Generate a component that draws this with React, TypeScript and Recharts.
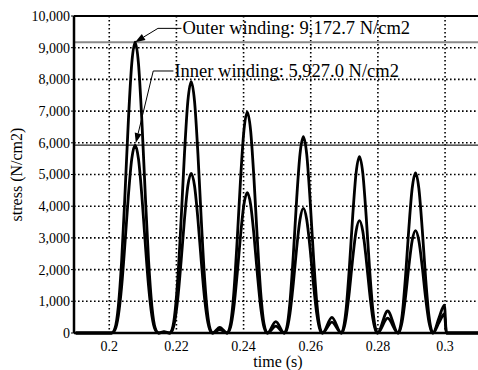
import { LineChart, Line, XAxis, YAxis, CartesianGrid, ReferenceLine } from "recharts";

// sample times (s)
const time = [
  0.19, 0.2, 0.2007,
  0.2017, 0.2027, 0.2037, 0.2047, 0.2057, 0.2067, 0.2077, 0.2087, 0.2097, 0.2107, 0.2117, 0.2127, 0.2137, 0.2147,
  0.2163, 0.218,
  0.2184, 0.2194, 0.2204, 0.2214, 0.2224, 0.2234, 0.2244, 0.2254, 0.2264, 0.2274, 0.2284, 0.2294, 0.2304, 0.2308,
  0.2329, 0.2351,
  0.2361, 0.2371, 0.2381, 0.2391, 0.2401, 0.2411, 0.2421, 0.2431, 0.2441, 0.2451, 0.2461, 0.2471,
  0.2496, 0.2521,
  0.2528, 0.2538, 0.2548, 0.2558, 0.2568, 0.2578, 0.2588, 0.2598, 0.2608, 0.2618, 0.2628, 0.2635,
  0.2663, 0.2691,
  0.2695, 0.2705, 0.2715, 0.2725, 0.2735, 0.2745, 0.2755, 0.2765, 0.2775, 0.2785, 0.2795, 0.2799,
  0.2829, 0.286,
  0.2862, 0.2872, 0.2882, 0.2892, 0.2902, 0.2912, 0.2922, 0.2932, 0.2942, 0.2952, 0.2962, 0.2964,
  0.2982, 0.2998, 0.3004, 0.311,
];

const outerStress = [
  0, 0, 0,
  151, 842, 2302, 4421, 6717, 8500, 9172.7, 8500, 6717, 4421, 2302, 842, 151, 0,
  40, 0,
  31, 497, 1702, 3571, 5659, 7304, 7929, 7304, 5659, 3571, 1702, 497, 31, 0,
  180, 0,
  280, 1274, 2938, 4853, 6385, 6970, 6385, 4853, 2938, 1274, 280, 0,
  357, 0,
  142, 955, 2441, 4208, 5642, 6193, 5642, 4208, 2441, 955, 142, 0,
  495, 0,
  62, 719, 2055, 3696, 5046, 5567, 5046, 3696, 2055, 719, 62, 0,
  694, 0,
  19, 543, 1748, 3280, 4558, 5054, 4558, 3280, 1748, 543, 19, 0,
  480, 880, 0, 0,
];

const innerStress = [
  0, 0, 0,
  98, 544, 1487, 2856, 4339, 5491, 5927, 5491, 4339, 2856, 1487, 544, 98, 0,
  25, 0,
  20, 316, 1081, 2268, 3594, 4638, 5038, 4638, 3594, 2268, 1081, 316, 20, 0,
  105, 0,
  178, 809, 1866, 3082, 4054, 4426, 4054, 3082, 1866, 809, 178, 0,
  220, 0,
  90, 606, 1550, 2672, 3583, 3934, 3583, 2672, 1550, 606, 90, 0,
  340, 0,
  39, 457, 1307, 2351, 3209, 3543, 3209, 2351, 1307, 457, 39, 0,
  470, 0,
  12, 346, 1115, 2093, 2908, 3227, 2908, 2093, 1115, 346, 12, 0,
  330, 600, 0, 0,
];

const xTicks = [0.2, 0.22, 0.24, 0.26, 0.28, 0.3];
const yTicks = [0, 1000, 2000, 3000, 4000, 5000, 6000, 7000, 8000, 9000, 10000];

const outerMax = 9172.7;
const innerMax = 5927.0;

const notes = [
  {
    label: "Outer winding: 9,172.7 N/cm2",
    tip: { x: 0.2077, y: 9172.7 },
    elbow: { x: 0.2145, y: 9610 },
    end: { x: 0.2215, y: 9610 },
  },
  {
    label: "Inner winding: 5,927.0 N/cm2",
    tip: { x: 0.2079, y: 5990 },
    elbow: { x: 0.2131, y: 8265 },
    end: { x: 0.2191, y: 8265 },
  },
];

const data = time.map((t, i) => ({ t, outer: outerStress[i], inner: innerStress[i] }));

const FONT = "Liberation Serif";

function Arrow(props: any) {
  const { x1, y1, x2, y2 } = props;
  const a = Math.atan2(y2 - y1, x2 - x1);
  const len = 10;
  const hw = 3.5;
  const bx = x2 - len * Math.cos(a);
  const by = y2 - len * Math.sin(a);
  const px = -Math.sin(a) * hw;
  const py = Math.cos(a) * hw;
  return (
    <g>
      <line x1={x1} y1={y1} x2={bx} y2={by} stroke="#000" strokeWidth={1} />
      <polygon points={`${x2},${y2} ${bx + px},${by + py} ${bx - px},${by - py}`} fill="#000" />
    </g>
  );
}

const leader = (label: string) => (props: any) => {
  const { x1, y1, x2, y2 } = props;
  return (
    <g>
      <line x1={x1} y1={y1} x2={x2} y2={y2} stroke="#000" strokeWidth={1} />
      <text x={x2 + 1} y={y2 + 6} fontSize={18.5} fontFamily={FONT} fill="#000">
        {label}
      </text>
    </g>
  );
};

export default function App() {
  return (
    <div
      style={{
        position: "absolute",
        left: 0,
        top: 0,
        width: 478,
        height: 370,
        overflow: "hidden",
        background: "#fff",
        fontFamily: FONT,
      }}
    >
      <style>{`svg text { font-family: "Liberation Serif", serif !important; }`}</style>
      <LineChart width={482} height={370} data={data} margin={{ top: 16, right: 0, bottom: 0, left: 0 }}>
        <CartesianGrid stroke="#000" strokeWidth={1.6} strokeDasharray="1.6 2.4" />
        <XAxis
          dataKey="t"
          type="number"
          domain={[0.1895, 0.311]}
          allowDataOverflow
          ticks={xTicks}
          tickFormatter={(v) => String(v)}
          height={37}
          tickLine={false}
          tickSize={4}
          tickMargin={4}
          axisLine={{ stroke: "#000", strokeWidth: 2.5 }}
          tick={{ fontSize: 14, fill: "#000" }}
          label={{ value: "time (s)", position: "insideBottom", offset: 3, fontSize: 16, fill: "#000" }}
        />
        <YAxis
          type="number"
          domain={[0, 10000]}
          ticks={yTicks}
          tickFormatter={(v) => v.toLocaleString("en-US")}
          width={74}
          tickSize={3}
          tickMargin={1}
          tickLine={{ stroke: "#000" }}
          axisLine={{ stroke: "#000", strokeWidth: 2.5 }}
          tick={{ fontSize: 14, fill: "#000" }}
          label={{
            value: "stress (N/cm2)",
            angle: -90,
            position: "insideLeft",
            offset: 16,
            fontSize: 16,
            fill: "#000",
            style: { textAnchor: "middle" },
          }}
        />
        <ReferenceLine y={10000} stroke="#000" strokeWidth={2} />
        <ReferenceLine y={outerMax} stroke="#8a8a8a" strokeWidth={2} />
        <ReferenceLine y={innerMax} stroke="#222" strokeWidth={1.2} />
        <Line type="monotone" dataKey="outer" stroke="#000" strokeWidth={2.8} dot={false} isAnimationActive={false} />
        <Line type="monotone" dataKey="inner" stroke="#000" strokeWidth={2.8} dot={false} isAnimationActive={false} />
        {notes.map((n) => (
          <ReferenceLine key={n.label + "a"} segment={[n.elbow, n.tip]} shape={Arrow} />
        ))}
        {notes.map((n) => (
          <ReferenceLine key={n.label + "b"} segment={[n.elbow, n.end]} shape={leader(n.label)} />
        ))}
      </LineChart>
    </div>
  );
}
